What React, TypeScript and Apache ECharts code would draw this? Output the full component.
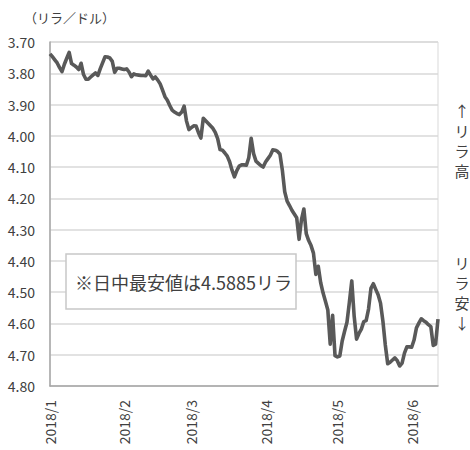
import React, { useEffect, useRef } from "react";
import * as echarts from "echarts";

// Daily TRY/USD closes, 2018/1/1 .. 2018/6/12 (one value per calendar day)
const startYear = 2018;
const values = [
  3.738, 3.747, 3.757, 3.767, 3.782, 3.795, 3.771, 3.752, 3.733, 3.769,
  3.774, 3.780, 3.788, 3.768, 3.804, 3.819, 3.819, 3.812, 3.805, 3.799,
  3.807, 3.785, 3.766, 3.747, 3.748, 3.751, 3.762, 3.797, 3.784, 3.784,
  3.786, 3.788, 3.786, 3.796, 3.811, 3.802, 3.805, 3.806, 3.807, 3.807,
  3.808, 3.793, 3.806, 3.818, 3.812, 3.822, 3.834, 3.854, 3.875, 3.886,
  3.903, 3.918, 3.924, 3.929, 3.932, 3.924, 3.905, 3.953, 3.980, 3.974,
  3.968, 3.969, 3.990, 4.007, 3.944, 3.952, 3.960, 3.968, 3.976, 3.989,
  4.009, 4.044, 4.046, 4.055, 4.065, 4.083, 4.110, 4.131, 4.111, 4.097,
  4.093, 4.093, 4.094, 4.070, 4.008, 4.057, 4.081, 4.088, 4.095, 4.100,
  4.084, 4.073, 4.062, 4.045, 4.046, 4.050, 4.058, 4.109, 4.179, 4.209,
  4.223, 4.238, 4.250, 4.262, 4.331, 4.268, 4.234, 4.313, 4.335, 4.351,
  4.375, 4.443, 4.417, 4.469, 4.502, 4.529, 4.557, 4.666, 4.574, 4.703,
  4.707, 4.704, 4.656, 4.625, 4.596, 4.532, 4.464, 4.577, 4.650, 4.632,
  4.618, 4.594, 4.591, 4.554, 4.488, 4.473, 4.491, 4.508, 4.535, 4.593,
  4.669, 4.729, 4.724, 4.717, 4.710, 4.719, 4.736, 4.727, 4.695, 4.675,
  4.675, 4.676, 4.653, 4.614, 4.599, 4.585, 4.591, 4.596, 4.604, 4.610,
  4.670, 4.666, 4.586,
];
const tickMonths = [1, 2, 3, 4, 5, 6];
const yMin = 3.7;
const yMax = 4.8;
const yStep = 0.1;
const unitLabel = "（リラ／ドル）";
const noteText = "※日中最安値は4.5885リラ";
const upChars = ["↑", "リ", "ラ", "高"];
const downChars = ["リ", "ラ", "安", "↓"];

const FONT = "'Noto Sans CJK JP', 'Noto Sans', sans-serif";
const TXT = "#404040";
const DAY = 86400000;

export default function App() {
  const ref = useRef<HTMLDivElement>(null);
  useEffect(() => {
    if (!ref.current) return;
    const chart = echarts.init(ref.current, undefined, { renderer: "svg" });
    const t0 = Date.UTC(startYear, 0, 1);
    const dayIndex = (y: number, m: number, d: number) =>
      Math.round((Date.UTC(y, m - 1, d) - t0) / DAY);
    const data = values.map((v, i) => [i, v]);
    const vertical = (chars: string[], top: number) =>
      chars.map((c, k) => ({
        type: "text",
        x: 462,
        y: top + k * 20,
        style: {
          text: c,
          fontSize: 15,
          fontFamily: FONT,
          fill: TXT,
          align: "center",
          verticalAlign: "middle",
        },
      }));
    chart.setOption({
      animation: false,
      textStyle: { fontFamily: FONT },
      grid: {
        left: 50,
        top: 42,
        width: 388,
        height: 344,
        show: true,
        borderColor: "#d9d9d9",
        borderWidth: 1,
      },
      xAxis: {
        type: "value",
        min: 0,
        max: values.length - 1,
        axisLine: { show: true, onZero: false, lineStyle: { color: "#a6a6a6", width: 1.5 } },
        axisTick: { show: false },
        splitLine: { show: false },
        axisLabel: {
          customValues: tickMonths.map((m) => dayIndex(startYear, m, 1)),
          rotate: 90,
          margin: 14,
          color: TXT,
          fontSize: 14,
          fontFamily: FONT,
          formatter: (v: number) => {
            const d = new Date(t0 + v * DAY);
            return `${d.getUTCFullYear()}/${d.getUTCMonth() + 1}`;
          },
        },
      },
      yAxis: {
        type: "value",
        inverse: true,
        min: yMin,
        max: yMax,
        interval: yStep,
        axisLine: { show: true, lineStyle: { color: "#a6a6a6", width: 1.5 } },
        axisTick: { show: false },
        splitLine: { show: true, lineStyle: { color: "#d9d9d9", width: 1.5 } },
        axisLabel: {
          color: TXT,
          fontSize: 14,
          fontFamily: FONT,
          margin: 15,
          formatter: (v: number) => v.toFixed(2),
        },
      },
      series: [
        {
          type: "line",
          data,
          showSymbol: false,
          symbol: "none",
          lineStyle: { color: "#595959", width: 3.6, join: "round" },
        },
      ],
      graphic: [
        {
          type: "text",
          x: 24,
          y: 11,
          style: { text: unitLabel, fontSize: 13, fontFamily: FONT, fill: TXT },
        },
        {
          type: "rect",
          z: 100,
          shape: { x: 66, y: 254, width: 230, height: 55 },
          style: { fill: "#ffffff", stroke: "#c8c8c8", lineWidth: 1.5 },
        },
        {
          type: "text",
          z: 101,
          x: 75,
          y: 282,
          style: {
            text: noteText,
            fontSize: 18,
            fontFamily: FONT,
            fill: TXT,
            verticalAlign: "middle",
          },
        },
        ...vertical(upChars, 110),
        ...vertical(downChars, 262),
      ],
    });
    return () => chart.dispose();
  }, []);
  return (
    <div
      ref={ref}
      style={{ position: "absolute", left: 0, top: 0, width: 470, height: 450, background: "#fff" }}
    />
  );
}
